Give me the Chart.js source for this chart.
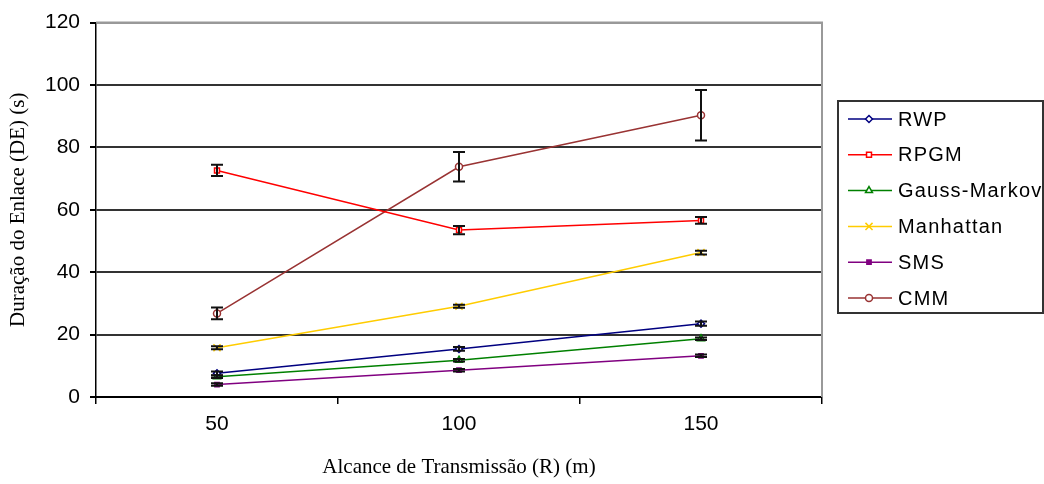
<!DOCTYPE html>
<html>
<head>
<meta charset="utf-8">
<script src="https://cdn.jsdelivr.net/npm/chart.js@4.4.0/dist/chart.umd.min.js"></script>
<style>
  html, body { margin: 0; padding: 0; background: #fff; }
  #wrap { width: 1044px; height: 484px; }
</style>
</head>
<body>
<div id="wrap"><canvas id="chart" width="1044" height="484"></canvas></div>
<script>
// valores
const categories = ["50", "100", "150"];
const rwp = [7.6, 15.4, 23.5];
const rpgm = [72.6, 53.5, 56.6];
const gauss = [6.5, 11.8, 18.7];
const manhattan = [15.8, 29.1, 46.3];
const sms = [4.0, 8.6, 13.2];
const cmm = [26.8, 73.8, 90.3];

// barras de erro (+/-)
const rwpErr = [0.6, 0.6, 0.7];
const rpgmErr = [1.8, 1.3, 1.1];
const gaussErr = [0.4, 0.4, 0.4];
const manhattanErr = [0.5, 0.5, 0.6];
const smsErr = [0.4, 0.4, 0.4];
const cmmErr = [1.9, 4.7, 8.1];

const yTicks = [0, 20, 40, 60, 80, 100, 120];

function serie(label, data, err, color, style, radius, fill) {
  return {
    label,
    data,
    errors: err,
    borderColor: color,
    backgroundColor: color,
    borderWidth: 1.5,
    pointStyle: style,
    pointRadius: radius,
    pointBorderWidth: 1.5,
    pointBorderColor: color,
    pointBackgroundColor: fill ? color : "#fff",
    tension: 0,
  };
}

// barras de erro desenhadas pela escala y
const errorBars = {
  id: "errorBars",
  afterDatasetsDraw(chart) {
    const ctx = chart.ctx;
    const y = chart.scales.y;
    ctx.save();
    ctx.strokeStyle = "#111";
    ctx.lineWidth = 2;
    chart.data.datasets.forEach((ds, di) => {
      const meta = chart.getDatasetMeta(di);
      meta.data.forEach((pt, i) => {
        const e = ds.errors[i];
        const top = y.getPixelForValue(ds.data[i] + e);
        const bot = y.getPixelForValue(ds.data[i] - e);
        ctx.beginPath();
        ctx.moveTo(pt.x, top);
        ctx.lineTo(pt.x, bot);
        ctx.moveTo(pt.x - 6, top);
        ctx.lineTo(pt.x + 6, top);
        ctx.moveTo(pt.x - 6, bot);
        ctx.lineTo(pt.x + 6, bot);
        ctx.stroke();
      });
    });
    ctx.restore();
  },
};

// moldura cinza (topo e direita) e legenda com caixa
const frameLegend = {
  id: "frameLegend",
  afterDraw(chart) {
    const ctx = chart.ctx;
    const a = chart.chartArea;
    ctx.save();
    ctx.strokeStyle = "#999";
    ctx.lineWidth = 2;
    ctx.beginPath();
    ctx.moveTo(a.left, a.top);
    ctx.lineTo(a.right, a.top);
    ctx.lineTo(a.right, a.bottom);
    ctx.stroke();

    const bx = 838, by = 101, bw = 205, bh = 212;
    ctx.strokeStyle = "#333";
    ctx.lineWidth = 2;
    ctx.strokeRect(bx, by, bw, bh);
    ctx.beginPath();
    ctx.rect(bx, by, bw - 1, bh);
    ctx.clip();
    ctx.font = "20px 'Liberation Sans', Arial, sans-serif";
    ctx.textBaseline = "middle";
    if ("letterSpacing" in ctx) ctx.letterSpacing = "1.2px";
    chart.data.datasets.forEach((ds, i) => {
      const yy = 119 + i * 35.8;
      ctx.strokeStyle = ds.borderColor;
      ctx.lineWidth = 1.5;
      ctx.beginPath();
      ctx.moveTo(848, yy);
      ctx.lineTo(892, yy);
      ctx.stroke();
      ctx.fillStyle = ds.pointBackgroundColor;
      ctx.strokeStyle = ds.borderColor;
      Chart.helpers.drawPoint(ctx, {
        pointStyle: ds.pointStyle,
        radius: ds.pointRadius,
        rotation: 0,
        borderWidth: 1.5,
      }, 869, yy);
      ctx.fillStyle = "#000";
      ctx.fillText(ds.label, 898, yy + 1);
    });
    ctx.restore();
  },
};

const datasets = [
  serie("RWP", rwp, rwpErr, "#000080", "rectRot", 3.5, false),
  serie("RPGM", rpgm, rpgmErr, "#ff0000", "rect", 3.5, false),
  serie("Gauss-Markov", gauss, gaussErr, "#008000", "triangle", 4, false),
  serie("Manhattan", manhattan, manhattanErr, "#ffcc00", "crossRot", 5, false),
  serie("SMS", sms, smsErr, "#800080", "rect", 3, true),
  serie("CMM", cmm, cmmErr, "#993333", "circle", 3.5, false),
];

new Chart(document.getElementById("chart"), {
  type: "line",
  data: { labels: categories, datasets },
  options: {
    responsive: false,
    animation: false,
    layout: { padding: { left: 0, right: 222, top: 19, bottom: 0 } },
    plugins: { legend: { display: false }, tooltip: { enabled: false } },
    scales: {
      x: {
        offset: true,
        grid: { offset: true, drawOnChartArea: false, color: "#000", lineWidth: 1.5, tickLength: 7 },
        border: { display: true, color: "#000", width: 2 },
        ticks: { color: "#000", padding: 8, font: { family: "'Liberation Sans', Arial, sans-serif", size: 21 } },
        title: {
          display: true,
          text: "Alcance de Transmissão (R) (m)",
          color: "#000",
          padding: { top: 0, bottom: 4 },
          font: { family: "'Liberation Serif', 'Times New Roman', serif", size: 21 },
        },
        afterFit(s) { s.height = 87; },
      },
      y: {
        min: 0,
        max: 120,
        afterBuildTicks(s) { s.ticks = yTicks.map(v => ({ value: v })); },
        grid: {
          color: c => (c.tick && c.tick.value === 120 ? "#999" : "#333"),
          lineWidth: 2,
          tickColor: "#000",
          tickLength: 6,
        },
        border: { display: true, color: "#000", width: 1.5 },
        ticks: { color: "#000", padding: 10, font: { family: "'Liberation Sans', Arial, sans-serif", size: 21 } },
        title: {
          display: true,
          text: "Duração do Enlace (DE) (s)",
          color: "#000",
          padding: { top: 6, bottom: 0 },
          font: { family: "'Liberation Serif', 'Times New Roman', serif", size: 21 },
        },
        afterFit(s) { s.width = 96; },
      },
    },
  },
  plugins: [errorBars, frameLegend],
});
</script>
</body>
</html>
